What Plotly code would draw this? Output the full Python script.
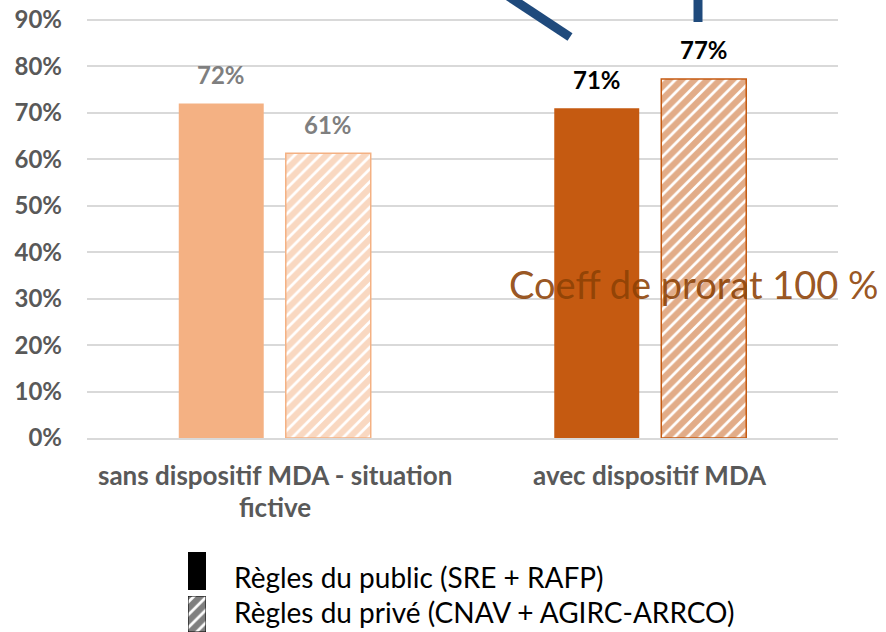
import plotly.graph_objects as go

# ---- data ----
categories = ["sans dispositif MDA - situation fictive", "avec dispositif MDA"]
category_lines = [["sans dispositif MDA - situation", "fictive"], ["avec dispositif MDA"]]
public_values = [0.72, 0.71]
prive_values = [0.613, 0.773]
series_names = ["Règles du public (SRE + RAFP)", "Règles du privé (CNAV + AGIRC-ARRCO)"]
annotation_text = "Coeff de prorat 100 %"

# ---- styling ----
W, H = 886, 632
light, dark = "#F4B183", "#C55A11"
bar_colors = [light, dark]
label_colors = ["#7F7F7F", "#000000"]
FONT = "Lato"


def px(x):
    return x / W


def py(y):
    return 1 - y / H


fig = go.Figure()
fig.add_trace(go.Bar(
    x=categories, y=public_values, name=series_names[0],
    marker=dict(color=bar_colors, line=dict(width=0)),
    showlegend=False,
))
fig.add_trace(go.Bar(
    x=categories, y=prive_values, name=series_names[1],
    marker=dict(color="white", line=dict(color=bar_colors, width=1.5),
                pattern=dict(shape="/", fgcolor=bar_colors, bgcolor="white",
                             size=9, solidity=0.7)),
    showlegend=False,
))

slot_offset = 53.5
annotations = []
for i, cat in enumerate(categories):
    for vals, sh in ((public_values, -slot_offset), (prive_values, slot_offset)):
        annotations.append(dict(
            x=cat, y=vals[i], xref="x", yref="y", xshift=sh, yshift=29,
            text=f"{vals[i]:.0%}", showarrow=False, yanchor="middle",
            font=dict(family=FONT, size=24, color=label_colors[i], weight="bold"),
        ))

for cat, lines in zip(categories, category_lines):
    for j, line in enumerate(lines):
        annotations.append(dict(
            x=cat, xref="x", y=py(475 + 32 * j), yref="paper", text=line,
            showarrow=False, yanchor="middle", xanchor="center",
            font=dict(family=FONT, size=26, color="#595959", weight="bold"),
        ))

annotations.append(dict(
    x=px(507), y=py(284), xref="paper", yref="paper", text=annotation_text,
    showarrow=False, xanchor="left", yanchor="middle",
    font=dict(family=FONT, size=38, color="rgba(140,65,5,0.9)"),
))

for j, name in enumerate(series_names):
    annotations.append(dict(
        x=px(232), y=py(577 + 35 * j), xref="paper", yref="paper", text=name,
        showarrow=False, xanchor="left", yanchor="middle",
        font=dict(family=FONT, size=28, color="#000000"),
    ))

# hatched legend swatch
fig.add_trace(go.Scatter(
    x=[0, 1, 1, 0, 0], y=[0, 0, 1, 1, 0], xaxis="x2", yaxis="y2",
    mode="lines", fill="toself", line=dict(color="black", width=1),
    fillcolor="white",
    fillpattern=dict(shape="/", fgcolor="black", bgcolor="white", size=9, solidity=0.7),
    showlegend=False, hoverinfo="skip",
))

shapes = [
    dict(type="rect", xref="paper", yref="paper", x0=px(188), x1=px(206),
         y0=py(590), y1=py(552), fillcolor="black", line=dict(width=0)),
    dict(type="line", xref="paper", yref="paper", x0=px(508), y0=py(-4),
         x1=px(570), y1=py(37), line=dict(color="#1F4A7C", width=9)),
    dict(type="line", xref="paper", yref="paper", x0=px(698), y0=py(-2),
         x1=px(698), y1=py(22), line=dict(color="#1F4A7C", width=9)),
]

fig.update_layout(
    width=W, height=H, autosize=False,
    margin=dict(l=0, r=0, t=0, b=0, pad=0, autoexpand=False),
    paper_bgcolor="white", plot_bgcolor="white",
    barmode="group", bargap=0.43, bargroupgap=0.206,
    showlegend=False,
    xaxis=dict(domain=[px(87), px(838)], showticklabels=False, ticks="",
               showgrid=False, showline=True, linecolor="#D9D9D9", linewidth=2,
               zeroline=False, automargin=False),
    yaxis=dict(domain=[py(438), 1], range=[0, 0.943], dtick=0.1, tick0=0,
               tickformat=".0%", showgrid=True, gridcolor="#D9D9D9", gridwidth=2,
               zeroline=False, showline=False, ticks="", ticklabelstandoff=24,
               automargin=False,
               tickfont=dict(family=FONT, size=24, color="#595959", weight="bold")),
    xaxis2=dict(domain=[px(188), px(206)], range=[0, 1], visible=False, anchor="y2",
                automargin=False),
    yaxis2=dict(domain=[0, py(596)], range=[0, 1], visible=False, anchor="x2",
                automargin=False),
    annotations=annotations,
    shapes=shapes,
)

post = """
document.body.style.margin='0px';
document.body.style.overflow='hidden';
"""

fig.write_html("out.html", config={"displayModeBar": False, "responsive": False},
               post_script=post)
